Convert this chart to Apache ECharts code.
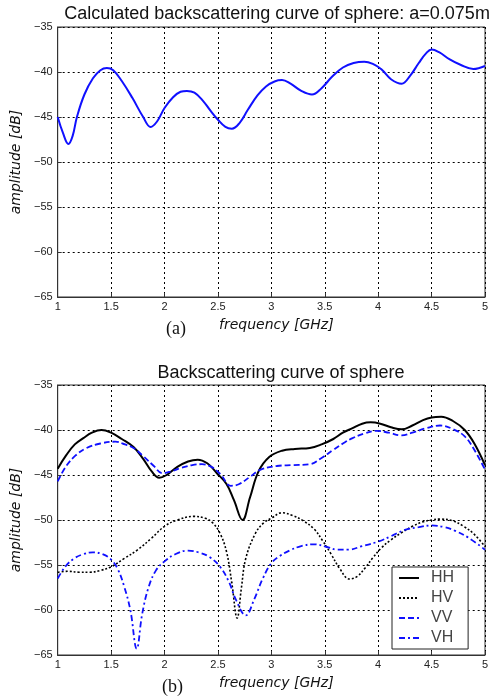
<!DOCTYPE html>
<html>
<head>
<meta charset="utf-8">
<script src="https://cdn.jsdelivr.net/npm/echarts@6/dist/echarts.min.js"></script>
<style>
  html, body { margin: 0; padding: 0; background: #fff; }
  #chart { width: 498px; height: 700px; }
</style>
</head>
<body>
<div id="chart"></div>
<script>
    'use strict';

    // (a) calculated curve, [frequency GHz, amplitude dB]
    var calcCurve = [
        [1.00, -45.0], [1.05, -46.8], [1.10, -48.0], [1.14, -47.1], [1.18, -45.0], [1.25, -42.5],
        [1.33, -40.7], [1.40, -39.8], [1.46, -39.55], [1.52, -39.8], [1.60, -41.0], [1.70, -42.9],
        [1.80, -45.0], [1.87, -46.1], [1.93, -45.5], [2.00, -44.0], [2.08, -42.8], [2.15, -42.2],
        [2.21, -42.1], [2.28, -42.3], [2.36, -43.2], [2.43, -44.3], [2.50, -45.3], [2.57, -46.1],
        [2.63, -46.3], [2.70, -45.7], [2.78, -44.2], [2.87, -42.6], [2.95, -41.6], [3.03, -41.05],
        [3.10, -40.9], [3.18, -41.3], [3.28, -42.1], [3.38, -42.5], [3.47, -41.8], [3.57, -40.5],
        [3.67, -39.5], [3.77, -39.0], [3.87, -38.85], [3.95, -39.1], [4.03, -39.7], [4.12, -40.8],
        [4.22, -41.3], [4.30, -40.4], [4.38, -39.0], [4.45, -37.9], [4.50, -37.5], [4.57, -37.8],
        [4.67, -38.6], [4.77, -39.2], [4.89, -39.67], [5.00, -39.33]
    ];

    // (b) measured curves
    var hh = [
        [1.00, -44.3], [1.08, -42.8], [1.16, -41.6], [1.24, -40.9], [1.32, -40.3], [1.41, -40.0],
        [1.50, -40.3], [1.60, -41.0], [1.71, -41.9], [1.80, -43.2], [1.88, -44.6], [1.95, -45.3],
        [2.02, -45.0], [2.12, -44.1], [2.22, -43.5], [2.31, -43.3], [2.40, -43.7], [2.49, -44.8],
        [2.58, -46.0], [2.65, -47.8], [2.73, -50.0], [2.80, -47.5], [2.88, -44.6], [2.98, -43.0],
        [3.10, -42.3], [3.22, -42.1], [3.36, -42.0], [3.47, -41.6], [3.58, -41.0], [3.67, -40.3],
        [3.76, -39.8], [3.85, -39.3], [3.93, -39.15], [4.02, -39.3], [4.12, -39.7], [4.22, -39.93],
        [4.32, -39.5], [4.42, -38.9], [4.50, -38.6], [4.59, -38.52], [4.70, -39.0], [4.81, -40.0],
        [4.90, -41.5], [5.00, -43.9]
    ];
    var hv = [
        [1.00, -55.8], [1.10, -55.7], [1.20, -55.8], [1.30, -55.8], [1.40, -55.6], [1.50, -55.2],
        [1.62, -54.3], [1.75, -53.3], [1.88, -52.0], [2.00, -50.7], [2.12, -50.0], [2.27, -49.6],
        [2.38, -49.8], [2.45, -50.3], [2.52, -51.5], [2.58, -53.5], [2.63, -57.0], [2.68, -60.9],
        [2.72, -57.5], [2.76, -54.3], [2.85, -51.5], [2.93, -50.3], [3.00, -49.8], [3.10, -49.2],
        [3.20, -49.5], [3.30, -50.1], [3.40, -51.0], [3.48, -52.3], [3.56, -53.8], [3.64, -55.4],
        [3.73, -56.55], [3.80, -56.3], [3.88, -55.3], [3.95, -54.2], [4.03, -53.1], [4.12, -52.2],
        [4.22, -51.4], [4.32, -50.7], [4.42, -50.2], [4.50, -50.0], [4.58, -49.9], [4.70, -50.1],
        [4.80, -50.7], [4.90, -51.6], [5.00, -52.96]
    ];
    var vv = [
        [1.00, -45.7], [1.08, -44.0], [1.17, -42.8], [1.27, -42.0], [1.40, -41.5], [1.54, -41.3],
        [1.63, -41.6], [1.71, -42.0], [1.80, -42.9], [1.90, -44.0], [1.98, -44.8], [2.06, -44.6],
        [2.16, -44.2], [2.26, -43.9], [2.35, -43.8], [2.44, -44.1], [2.53, -45.0], [2.62, -46.2],
        [2.70, -46.0], [2.80, -45.2], [2.90, -44.4], [3.05, -44.0], [3.20, -43.9], [3.36, -43.8],
        [3.47, -43.1], [3.58, -42.2], [3.67, -41.5], [3.76, -40.9], [3.87, -40.4], [3.98, -40.1],
        [4.10, -40.3], [4.22, -40.6], [4.32, -40.3], [4.45, -39.8], [4.58, -39.5], [4.70, -39.9],
        [4.81, -40.7], [4.90, -42.2], [5.00, -44.4]
    ];
    var vh = [
        [1.00, -56.5], [1.07, -55.2], [1.15, -54.3], [1.24, -53.8], [1.33, -53.6], [1.42, -53.8],
        [1.50, -54.4], [1.56, -55.4], [1.62, -57.3], [1.68, -60.0], [1.74, -64.3], [1.79, -60.5],
        [1.85, -57.5], [1.92, -55.6], [2.00, -54.6], [2.10, -53.8], [2.22, -53.4], [2.32, -53.6],
        [2.42, -54.1], [2.52, -55.2], [2.60, -56.8], [2.67, -58.9], [2.76, -60.6], [2.84, -58.8],
        [2.92, -56.5], [3.00, -54.8], [3.08, -54.0], [3.17, -53.4], [3.28, -52.9], [3.40, -52.7],
        [3.52, -53.0], [3.62, -53.3], [3.72, -53.3], [3.85, -52.9], [4.00, -52.4], [4.12, -51.8],
        [4.25, -51.1], [4.38, -50.8], [4.50, -50.6], [4.62, -50.8], [4.72, -51.2], [4.85, -52.0],
        [5.00, -53.3]
    ];

    var seriesNames = ['HH', 'HV', 'VV', 'VH'];

    var tickFont = { color: '#222', fontSize: 11, fontFamily: 'Liberation Sans' };
    var nameFont = { color: '#111', fontSize: 14, fontStyle: 'italic', fontFamily: 'DejaVu Sans' };
    var titleFont = { fontSize: 18, fontWeight: 'normal', color: '#111', fontFamily: 'Liberation Sans' };

    function xAxis(idx) {
        return {
            type: 'value', gridIndex: idx, min: 1, max: 5, interval: 0.5,
            name: 'frequency [GHz]', nameLocation: 'middle', nameGap: 21,
            nameTextStyle: Object.assign({ padding: [0, 0, 0, 10] }, nameFont),
            axisLine: { lineStyle: { color: '#333' } },
            axisTick: { inside: true, length: 4, lineStyle: { color: '#333' } },
            axisLabel: Object.assign({ margin: 4 }, tickFont),
            splitLine: { show: true, lineStyle: { color: '#000', type: [2, 3], width: 1 } }
        };
    }

    function yAxis(idx) {
        return {
            type: 'value', gridIndex: idx, min: -65, max: -35, interval: 5,
            name: 'amplitude [dB]', nameLocation: 'middle', nameGap: 25,
            nameTextStyle: nameFont,
            axisLine: { show: true, lineStyle: { color: '#333' } },
            axisTick: { show: true, inside: true, length: 4, lineStyle: { color: '#333' } },
            axisLabel: Object.assign({
                margin: 5,
                formatter: function(v) { return String(v).replace('-', '\u2212'); }
            }, tickFont),
            splitLine: { show: true, lineStyle: { color: '#000', type: [2, 3], width: 1 } }
        };
    }

    function lineSeries(name, data, gi, color, type, width) {
        return {
            name: name, type: 'line', xAxisIndex: gi, yAxisIndex: gi,
            data: data, smooth: 0.4, symbol: 'none', showSymbol: false,
            lineStyle: { color: color, type: type, width: width },
            itemStyle: { color: color },
            animation: false
        };
    }

    var option = {
        backgroundColor: '#fff',
        animation: false,
        title: [{
            text: 'Calculated backscattering curve of sphere: a=0.075m',
            left: 272, top: 0, textAlign: 'center',
            textStyle: titleFont
        }, {
            text: 'Backscattering curve of sphere',
            left: 276, top: 359, textAlign: 'center',
            textStyle: titleFont
        }],
        grid: [
            { left: 57.7, top: 27, width: 427.3, height: 270, show: true, borderColor: '#333', borderWidth: 1 },
            { left: 57.7, top: 385, width: 427.3, height: 270, show: true, borderColor: '#333', borderWidth: 1 }
        ],
        xAxis: [xAxis(0), xAxis(1)],
        yAxis: [yAxis(0), yAxis(1)],
        legend: {
            data: seriesNames,
            orient: 'vertical',
            left: 392, top: 567,
            backgroundColor: '#fff',
            borderColor: '#222', borderWidth: 1,
            padding: [3, 14, 3, 6],
            itemWidth: 20, itemHeight: 14, itemGap: 4,
            itemStyle: { opacity: 0 },
            textStyle: { fontSize: 16, lineHeight: 14, color: '#444', fontFamily: 'Liberation Sans', padding: [0, 0, 0, 7] }
        },
        graphic: [
            { type: 'text', left: 166, top: 320, style: { text: '(a)', fontSize: 18, fontFamily: 'Liberation Serif', fill: '#111' } },
            { type: 'text', left: 162, top: 678, style: { text: '(b)', fontSize: 18, fontFamily: 'Liberation Serif', fill: '#111' } }
        ],
        series: [
            lineSeries('calc', calcCurve, 0, '#1010ff', 'solid', 2),
            lineSeries('HH', hh, 1, '#000', 'solid', 2),
            lineSeries('HV', hv, 1, '#000', [2, 2], 1.6),
            lineSeries('VV', vv, 1, '#1010ff', [6, 3], 1.8),
            lineSeries('VH', vh, 1, '#1010ff', [6, 3, 2, 3], 1.8)
        ]
    };

    var myChart = echarts.init(document.getElementById('chart'));
    myChart.setOption(option);
</script>
</body>
</html>
